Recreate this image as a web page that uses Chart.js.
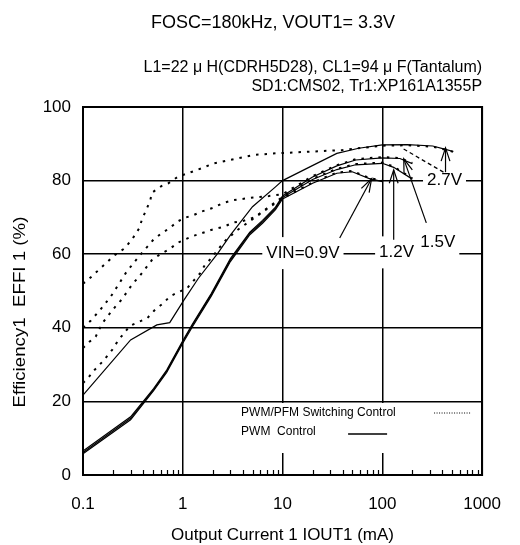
<!DOCTYPE html>
<html>
<head>
<meta charset="utf-8">
<script src="https://cdn.jsdelivr.net/npm/chart.js@4.4.1/dist/chart.umd.min.js"></script>
<style>
  html, body { margin: 0; padding: 0; background: #fff; }
  #wrap { width: 520px; height: 545px; }
</style>
</head>
<body>
<div id="wrap"><canvas id="effChart"></canvas></div>
<script>
/* Efficiency vs output current, FOSC=180kHz, VOUT1=3.3V */

const FONT = '"Liberation Sans", Arial, sans-serif';

// axis ticks
const xTickValues = [0.1, 1, 10, 100, 1000];
const yTickValues = [0, 20, 40, 60, 80, 100];

// PWM control (solid lines)
const pwm27Cur = [0.1, 0.3, 0.55, 0.74, 1.03, 1.43, 2.24, 3, 5, 8.5, 10, 19, 35, 58, 100, 178, 320, 430, 515];
const pwm27Eff = [21.7, 36.7, 40.8, 41.4, 47.6, 53.4, 60.2, 65.2, 72.9, 78.3, 80, 83.8, 87.4, 88.8, 89.7, 89.8, 89.4, 88.5, 87.9];

const pwm15Cur = [0.1, 0.3, 0.51, 0.69, 1, 1.25, 1.93, 3, 4.7, 6.3, 8.5, 10, 20, 35, 54, 100, 150, 200];
const pwm15Eff = [6.5, 15.8, 23.5, 28.5, 36.5, 41, 49.3, 58.8, 66, 69.2, 72.8, 75.8, 81, 84, 85.6, 86.2, 86, 84.6];

const pwm12Cur = [0.1, 0.3, 0.51, 0.69, 1, 1.25, 1.93, 3, 4.7, 6.3, 8.5, 10, 20, 35, 54, 100, 130, 200];
const pwm12Eff = [6.1, 15.4, 23.2, 28.2, 36.2, 40.7, 49, 58.4, 65.7, 68.8, 72.5, 75.4, 80.3, 83, 84.3, 84.7, 83.6, 80.4];

const pwm09Cur = [0.1, 0.3, 0.51, 0.69, 1, 1.25, 1.93, 3, 4.7, 6.3, 8.5, 10, 20, 35, 50, 73, 100];
const pwm09Eff = [5.8, 15, 22.9, 27.9, 35.8, 40.3, 48.6, 58, 65.3, 68.4, 72.1, 75, 79.3, 82, 82.4, 80.6, 79.7];

// PWM/PFM switching control (dotted lines)
const pfm27Cur = [0.1, 0.112, 0.15, 0.209, 0.262, 0.315, 0.365, 0.393, 0.43, 0.473, 0.49, 0.61, 0.71, 0.89, 1.07, 1.33, 2.07, 3.24, 5.2, 8.5, 40, 100, 178, 320, 430, 515];
const pfm27Eff = [52, 53, 56.2, 59.8, 61.6, 64.3, 67, 69.7, 72, 74.7, 76.7, 78.5, 79.2, 81, 81.8, 82.7, 84.7, 85.8, 87, 87.4, 88.3, 89.5, 89.6, 89.2, 88.4, 87.8];

const pfm15Cur = [0.1, 0.12, 0.15, 0.19, 0.23, 0.27, 0.33, 0.38, 0.44, 0.51, 0.6, 0.73, 0.89, 1.03, 1.3, 1.55, 1.95, 2.6, 3.2, 5.1, 7.3, 10, 20, 35, 54, 100, 150, 200];
const pfm15Eff = [40, 42, 45, 48.5, 52, 55, 58, 60, 62, 64, 65.5, 67, 68.9, 69.8, 70.7, 71.6, 72.5, 74, 74.7, 75.4, 75.8, 76.3, 81.2, 84.2, 85.8, 86.4, 86.1, 84.8];

const pfm12Cur = [0.1, 0.116, 0.134, 0.156, 0.181, 0.21, 0.243, 0.315, 0.365, 0.49, 0.61, 0.73, 0.89, 1.05, 1.28, 1.55, 1.93, 2.6, 3.2, 4, 5.2, 7, 10, 20, 35, 54, 100, 130, 200];
const pfm12Eff = [34.5, 36.2, 37.6, 41.2, 43.5, 45.7, 47.6, 52, 53.9, 58.4, 60.2, 61.3, 63.1, 64, 65, 65.7, 66.6, 67.5, 68.6, 69, 70, 72.5, 75.6, 80.5, 83.2, 84.5, 84.9, 83.8, 80.6];

const pfm09Cur = [0.1, 0.112, 0.13, 0.157, 0.196, 0.227, 0.295, 0.37, 0.44, 0.53, 0.64, 0.74, 0.92, 1.1, 1.49, 1.66, 1.93, 2.24, 2.6, 3.5, 5, 7, 10, 20, 35, 50, 73, 100];
const pfm09Eff = [25, 26.3, 28.5, 30.8, 34, 36.7, 40.5, 41.7, 42.6, 45, 46.7, 48.5, 49.8, 50.7, 54.8, 57, 58.9, 61.2, 63.4, 66.5, 69.5, 72.3, 75.2, 79.5, 82.2, 82.6, 80.8, 79.9];

// VIN annotations (data coordinates)
const noteLabels = [
  { text: 'VIN=0.9V', at: [16, 60.3] },
  { text: '1.2V', at: [139, 60.5] },
  { text: '1.5V', at: [360, 63.3] },
  { text: '2.7V', at: [420, 80] }
];
const noteArrows = [
  { from: [37.4, 64.4], to: [78, 80.5], head: true },
  { from: [130, 63.9], to: [130, 82.9], head: true },
  { from: [276, 68.5], to: [164, 85.9], head: true },
  { from: [430, 82.3], to: [430, 88.9], head: true },
  { from: [410, 82.3], to: [158, 88.8], head: false, dash: [4, 3] }
];

function toPoints(cur, eff) {
  return cur.map((c, i) => ({ x: c, y: eff[i] }));
}

function solidSet(label, cur, eff) {
  return {
    label: label,
    data: toPoints(cur, eff),
    borderColor: '#000',
    borderWidth: 1.2,
    pointRadius: 0,
    showLine: true,
    tension: 0
  };
}

function dottedSet(label, cur, eff) {
  return {
    label: label,
    data: toPoints(cur, eff),
    borderColor: '#000',
    borderWidth: 2,
    borderDash: [2.5, 6],
    pointRadius: 0,
    showLine: true,
    tension: 0
  };
}

function drawArrow(ctx, x1, y1, x2, y2, head) {
  ctx.beginPath();
  ctx.moveTo(x1, y1);
  ctx.lineTo(x2, y2);
  ctx.stroke();
  if (!head) return;
  const ang = Math.atan2(y1 - y2, x1 - x2);
  const len = 14, spread = 0.32;
  ctx.setLineDash([]);
  ctx.beginPath();
  ctx.moveTo(x2 + len * Math.cos(ang - spread), y2 + len * Math.sin(ang - spread));
  ctx.lineTo(x2, y2);
  ctx.lineTo(x2 + len * Math.cos(ang + spread), y2 + len * Math.sin(ang + spread));
  ctx.stroke();
}

const extrasPlugin = {
  id: 'extras',
  beforeDatasetsDraw(chart) {
    const { ctx, chartArea: a, scales } = chart;
    ctx.save();
    ctx.fillStyle = '#fff';
    ctx.font = '17px ' + FONT;
    // white boxes behind VIN labels
    noteLabels.forEach(n => {
      const px = scales.x.getPixelForValue(n.at[0]);
      const py = scales.y.getPixelForValue(n.at[1]);
      const w = ctx.measureText(n.text).width + 8;
      ctx.fillRect(px - w / 2, py - 16, w, 32);
    });
    // legend box
    ctx.fillRect(a.right - 246, a.bottom - 72, 244, 50);
    ctx.restore();
  },
  afterDatasetsDraw(chart) {
    const { ctx, chartArea: a, scales } = chart;
    const sx = scales.x, sy = scales.y;
    ctx.save();
    ctx.strokeStyle = '#000';
    ctx.fillStyle = '#000';

    // minor ticks on the bottom axis
    ctx.lineWidth = 1.2;
    [0.1, 1, 10, 100].forEach(d => {
      for (let m = 2; m <= 9; m++) {
        const px = Math.round(sx.getPixelForValue(d * m)) + 0.5;
        ctx.beginPath();
        ctx.moveTo(px, a.bottom);
        ctx.lineTo(px, a.bottom - 5);
        ctx.stroke();
      }
    });

    // arrows
    ctx.lineWidth = 1.2;
    noteArrows.forEach(n => {
      ctx.setLineDash(n.dash || []);
      drawArrow(ctx,
        sx.getPixelForValue(n.from[0]), sy.getPixelForValue(n.from[1]),
        sx.getPixelForValue(n.to[0]), sy.getPixelForValue(n.to[1]), n.head);
    });
    ctx.setLineDash([]);

    // VIN labels
    ctx.font = '17px ' + FONT;
    ctx.textAlign = 'center';
    ctx.textBaseline = 'middle';
    noteLabels.forEach(n => {
      ctx.fillText(n.text, sx.getPixelForValue(n.at[0]), sy.getPixelForValue(n.at[1]));
    });

    // legend
    ctx.font = '12px ' + FONT;
    ctx.textAlign = 'left';
    const lx = a.right - 241;
    const row1 = a.bottom - 62, row2 = a.bottom - 43;
    ctx.fillText('PWM/PFM Switching Control', lx, row1);
    ctx.fillText('PWM  Control', lx, row2);
    ctx.lineWidth = 1;
    ctx.setLineDash([1, 1.5]);
    ctx.beginPath();
    ctx.moveTo(a.right - 48, row1);
    ctx.lineTo(a.right - 11, row1);
    ctx.stroke();
    ctx.setLineDash([]);
    ctx.lineWidth = 1.5;
    ctx.beginPath();
    ctx.moveTo(a.right - 134, row2 + 2);
    ctx.lineTo(a.right - 95, row2 + 2);
    ctx.stroke();

    // frame
    ctx.lineWidth = 2;
    ctx.strokeRect(a.left, a.top, a.right - a.left, a.bottom - a.top);
    ctx.restore();
  },
  afterDraw(chart) {
    const { ctx, chartArea: a } = chart;
    ctx.save();
    ctx.fillStyle = '#000';
    ctx.textBaseline = 'middle';
    ctx.font = '18px ' + FONT;
    ctx.textAlign = 'right';
    ctx.fillText('FOSC=180kHz, VOUT1= 3.3V', 395, 23);
    ctx.font = '16px ' + FONT;
    ctx.fillText('L1=22 \u03bc H(CDRH5D28), CL1=94 \u03bc F(Tantalum)', a.right, 68);
    ctx.fillText('SD1:CMS02, Tr1:XP161A1355P', a.right, 87);
    ctx.font = '17px ' + FONT;
    ctx.textAlign = 'center';
    ctx.fillText('Output Current 1 IOUT1 (mA)', (a.left + a.right) / 2, 535);
    // y title, slightly stretched along its length like the source
    ctx.font = '17px ' + FONT;
    ctx.translate(20, 312);
    ctx.rotate(-Math.PI / 2);
    ctx.scale(1.1, 1);
    ctx.fillText('Efficiency1  EFFI 1 (%)', 0, 0);
    ctx.restore();
  }
};

const ctx = document.getElementById('effChart').getContext('2d');
new Chart(ctx, {
  type: 'scatter',
  data: {
    datasets: [
      solidSet('PWM 2.7V', pwm27Cur, pwm27Eff),
      solidSet('PWM 1.5V', pwm15Cur, pwm15Eff),
      solidSet('PWM 1.2V', pwm12Cur, pwm12Eff),
      solidSet('PWM 0.9V', pwm09Cur, pwm09Eff),
      dottedSet('PWM/PFM 2.7V', pfm27Cur, pfm27Eff),
      dottedSet('PWM/PFM 1.5V', pfm15Cur, pfm15Eff),
      dottedSet('PWM/PFM 1.2V', pfm12Cur, pfm12Eff),
      dottedSet('PWM/PFM 0.9V', pfm09Cur, pfm09Eff)
    ]
  },
  options: {
    responsive: true,
    maintainAspectRatio: false,
    animation: false,
    layout: { padding: { top: 107, right: 22, bottom: 0, left: 0 } },
    plugins: {
      legend: { display: false },
      tooltip: { enabled: false }
    },
    scales: {
      x: {
        type: 'logarithmic',
        min: 0.1,
        max: 1000,
        afterBuildTicks: s => { s.ticks = xTickValues.map(v => ({ value: v })); },
        afterFit: s => { s.height = 70; },
        grid: { color: '#000', lineWidth: 1.5, drawTicks: false },
        border: { display: false },
        ticks: {
          color: '#000',
          font: { family: FONT, size: 17 },
          padding: 19,
          autoSkip: false,
          maxRotation: 0,
          callback: v => String(v)
        }
      },
      y: {
        min: 0,
        max: 100,
        afterBuildTicks: s => { s.ticks = yTickValues.map(v => ({ value: v })); },
        afterFit: s => { s.width = 83; },
        grid: { color: '#000', lineWidth: 1.5, drawTicks: false },
        border: { display: false },
        ticks: {
          color: '#000',
          font: { family: FONT, size: 17 },
          padding: 12,
          callback: v => String(v)
        }
      }
    }
  },
  plugins: [extrasPlugin]
});
</script>
</body>
</html>
